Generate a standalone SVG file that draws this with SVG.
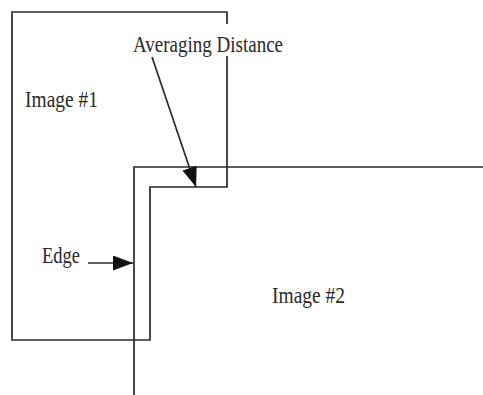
<svg xmlns="http://www.w3.org/2000/svg" width="483" height="395" viewBox="0 0 483 395">
<style>
.ln{fill:none;stroke:#2a2a2a;stroke-width:1.7}
.tx{font-family:"Liberation Serif","Times New Roman",serif;font-size:24px;fill:#2a2a2a}
</style>
<defs>
<marker id="ah" markerWidth="10" markerHeight="8" refX="10" refY="4" orient="auto" markerUnits="userSpaceOnUse" viewBox="0 0 10 8">
<path d="M0,0 L10,4 L0,8 Z" fill="#111"/>
</marker>
<marker id="ah2" markerWidth="20" markerHeight="15" refX="20" refY="7.5" orient="auto" markerUnits="userSpaceOnUse" viewBox="0 0 20 15">
<path d="M0,0 L20,7.5 L0,15 Z" fill="#111"/>
</marker>
</defs>
<rect width="483" height="395" fill="#fff"/>
<g id="image1">
<path class="ln" d="M12,12 H227 V187 H150 V340 H12 Z"/>
<text class="tx" x="25" y="107" textLength="73" lengthAdjust="spacingAndGlyphs">Image #1</text>
</g>
<g id="image2">
<path class="ln" d="M134,395 V167 H483"/>
<text class="tx" x="272" y="303" textLength="73" lengthAdjust="spacingAndGlyphs">Image #2</text>
</g>
<g id="avg-label">
<rect x="130" y="24" width="158" height="32" fill="#fff"/>
<text class="tx" x="133" y="52" textLength="150" lengthAdjust="spacingAndGlyphs">Averaging Distance</text>
</g>
<g id="edge-label">
<text class="tx" x="42" y="263" textLength="38" lengthAdjust="spacingAndGlyphs">Edge</text>
</g>
<g id="connectors">
<line class="ln" x1="152" y1="57" x2="196" y2="187" marker-end="url(#ah2)"/>
<line class="ln" x1="88" y1="263" x2="133" y2="263" marker-end="url(#ah2)"/>
</g>
</svg>
